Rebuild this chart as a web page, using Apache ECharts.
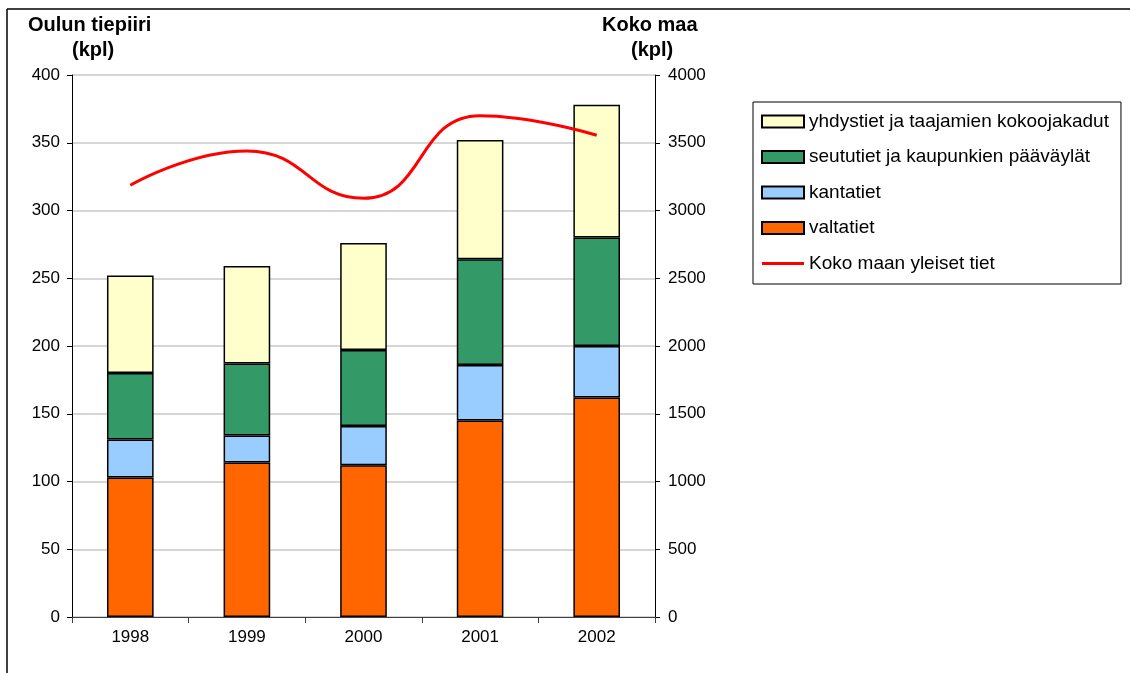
<!DOCTYPE html>
<html>
<head>
<meta charset="utf-8">
<script src="https://cdn.jsdelivr.net/npm/echarts@6/dist/echarts.min.js"></script>
<style>
  html, body { margin: 0; padding: 0; background: #fff; }
  #chart { width: 1130px; height: 673px; }
</style>
</head>
<body>
<div id="chart"></div>
<script>
// Road counts by year, Oulu road district (left axis) and whole country (right axis)
const years = ['1998', '1999', '2000', '2001', '2002'];
const valtatiet = [103, 114, 112, 145, 162];
const kantatiet = [28, 20, 29, 41, 38];
const seututiet = [49, 53, 56, 78, 80];
const yhdystiet = [72, 72, 79, 88, 98];
const kokoMaa = [3186, 3440, 3090, 3700, 3555];

const FONT = 'Liberation Sans, Arial, sans-serif';

const chart = echarts.init(document.getElementById('chart'), null, { renderer: 'canvas' });

const barBase = {
  type: 'bar',
  stack: 'tiepiiri',
  barWidth: '40%',
  yAxisIndex: 0,
  emphasis: { disabled: true }
};

const option = {
  animation: false,
  backgroundColor: '#ffffff',
  textStyle: { fontFamily: FONT },
  grid: { left: 72, right: 475, top: 75, bottom: 56, containLabel: false },
  legend: {
    orient: 'vertical',
    left: 753,
    top: 102,
    padding: [10, 12, 11, 8],
    itemWidth: 42,
    itemHeight: 12,
    itemGap: 16.5,
    symbolKeepAspect: true,
    borderColor: '#000',
    borderWidth: 1,
    textStyle: { fontSize: 19, color: '#000', fontFamily: FONT },
    data: [
      { name: 'yhdystiet ja taajamien kokoojakadut', icon: 'rect' },
      { name: 'seututiet ja kaupunkien pääväylät', icon: 'rect' },
      { name: 'kantatiet', icon: 'rect' },
      { name: 'valtatiet', icon: 'rect' },
      { name: 'Koko maan yleiset tiet', icon: 'path://M0,0 L42,0 L42,3 L0,3 Z' }
    ]
  },
  xAxis: {
    type: 'category',
    data: years,
    axisLine: { lineStyle: { color: '#404040', width: 1 } },
    axisTick: { show: true, length: 6, lineStyle: { color: '#404040' } },
    axisLabel: { color: '#000', fontSize: 17, fontFamily: FONT, margin: 12 }
  },
  yAxis: [
    {
      type: 'value',
      min: 0, max: 400, interval: 50,
      axisLine: { show: true, lineStyle: { color: '#000', width: 1 } },
      axisTick: { show: true, length: 5, lineStyle: { color: '#000' } },
      axisLabel: { color: '#000', fontSize: 17, fontFamily: FONT, margin: 12 },
      splitLine: { show: true, lineStyle: { color: '#c8c8c8', width: 1.5 } }
    },
    {
      type: 'value',
      min: 0, max: 4000, interval: 500,
      axisLine: { show: true, lineStyle: { color: '#000', width: 1 } },
      axisTick: { show: true, length: 5, lineStyle: { color: '#000' } },
      axisLabel: { color: '#000', fontSize: 17, fontFamily: FONT, margin: 13, formatter: v => String(v) },
      splitLine: { show: false }
    }
  ],
  series: [
    Object.assign({}, barBase, {
      name: 'valtatiet', data: valtatiet,
      itemStyle: { color: '#FF6600', borderColor: '#000', borderWidth: 1.5 }
    }),
    Object.assign({}, barBase, {
      name: 'kantatiet', data: kantatiet,
      itemStyle: { color: '#99CCFF', borderColor: '#000', borderWidth: 1.5 }
    }),
    Object.assign({}, barBase, {
      name: 'seututiet ja kaupunkien pääväylät', data: seututiet,
      itemStyle: { color: '#339966', borderColor: '#000', borderWidth: 1.5 }
    }),
    Object.assign({}, barBase, {
      name: 'yhdystiet ja taajamien kokoojakadut', data: yhdystiet,
      itemStyle: { color: '#FFFFCC', borderColor: '#000', borderWidth: 1.5 }
    }),
    {
      name: 'Koko maan yleiset tiet',
      type: 'line',
      yAxisIndex: 1,
      data: kokoMaa,
      smooth: 0.5,
      symbol: 'none',
      lineStyle: { color: '#FF0000', width: 3 },
      itemStyle: { color: '#FF0000', borderWidth: 0 },
      emphasis: { disabled: true }
    }
  ],
  graphic: [
    // outer frame edges
    { type: 'line', shape: { x1: 7, y1: 9, x2: 1130, y2: 9 }, style: { stroke: '#000', lineWidth: 1.5 } },
    { type: 'line', shape: { x1: 7, y1: 9, x2: 7, y2: 673 }, style: { stroke: '#000', lineWidth: 1.5 } },
    // axis titles
    { type: 'text', left: 28, top: 15, style: { text: 'Oulun tiepiiri', font: 'bold 20px ' + FONT, fill: '#000' } },
    { type: 'text', left: 72, top: 40, style: { text: '(kpl)', font: 'bold 20px ' + FONT, fill: '#000' } },
    { type: 'text', left: 602, top: 15, style: { text: 'Koko maa', font: 'bold 20px ' + FONT, fill: '#000' } },
    { type: 'text', left: 631, top: 40, style: { text: '(kpl)', font: 'bold 20px ' + FONT, fill: '#000' } }
  ]
};

chart.setOption(option);
</script>
</body>
</html>
